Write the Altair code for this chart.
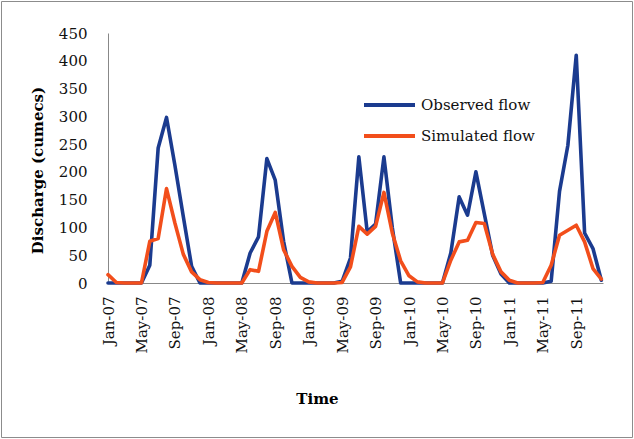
import json
import altair as alt
import pandas as pd

# Monthly discharge (cumecs), Jan-2007 .. Dec-2011
observed = [
    0, 0, 0, 0, 0, 32, 243, 298, 212, 120, 30, 0,
    0, 0, 0, 0, 0, 54, 83, 224, 185, 75, 0, 0,
    0, 0, 0, 0, 3, 45, 227, 92, 106, 227, 100, 0,
    0, 0, 0, 0, 0, 54, 155, 122, 200, 125, 50, 16,
    0, 0, 0, 0, 0, 3, 165, 248, 410, 90, 62, 5,
]
simulated = [
    15, 1, 0, 0, 0, 75, 80, 170, 108, 52, 20, 6,
    1, 0, 0, 0, 0, 24, 21, 93, 127, 60, 30, 10,
    2, 0, 0, 0, 1, 29, 102, 88, 102, 163, 90, 40,
    13, 2, 0, 0, 0, 41, 74, 77, 109, 107, 52, 20,
    5, 0, 0, 0, 1, 32, 86, 95, 104, 74, 26, 7,
]
tick_labels = [
    "Jan-07", "May-07", "Sep-07", "Jan-08", "May-08", "Sep-08", "Jan-09",
    "May-09", "Sep-09", "Jan-10", "May-10", "Sep-10", "Jan-11", "May-11", "Sep-11",
]
series_names = ["Observed flow", "Simulated flow"]
series_colors = ["#1b3b8f", "#f24e1b"]

wide = pd.DataFrame({
    "month": list(range(len(observed))),
    "Observed flow": observed,
    "Simulated flow": simulated,
})

FONT = "DejaVu Serif"
W, H = 495, 250
LEFT, TOP = 108, 33

lines = (
    alt.Chart(wide)
    .transform_fold(series_names, as_=["series", "discharge"])
    .mark_line(strokeWidth=3.6, strokeJoin="round", strokeCap="round")
    .encode(
        x=alt.X(
            "month:Q",
            scale=alt.Scale(domain=[0, 59.2], nice=False, zero=False),
            axis=alt.Axis(
                values=list(range(0, 60, 4)),
                labelExpr=f"{json.dumps(tick_labels)}[datum.value / 4]",
                labelAngle=270,
                labelPadding=13,
                ticks=False,
                grid=False,
                title="Time",
                titleX=317 - LEFT,
                titleY=398 - (TOP + H),
                titleAlign="center",
                titleBaseline="middle",
                titleAnchor="start",
            ),
        ),
        y=alt.Y(
            "discharge:Q",
            scale=alt.Scale(domain=[0, 450], nice=False),
            axis=alt.Axis(
                values=list(range(0, 451, 50)),
                ticks=False,
                grid=False,
                labelPadding=21,
                title="Discharge (cumecs)",
                titleX=37 - LEFT,
                titleY=170 - TOP,
                titleAngle=270,
                titleAlign="center",
                titleBaseline="middle",
                titleAnchor="start",
            ),
        ),
        color=alt.Color(
            "series:N",
            scale=alt.Scale(domain=series_names, range=series_colors),
            legend=alt.Legend(
                title=None,
                orient="none",
                legendX=254,
                legendY=62,
                symbolType="stroke",
                symbolSize=2601,
                symbolStrokeWidth=4,
                clipHeight=20,
                rowPadding=11,
                labelOffset=4,
                padding=0,
                labelFont=FONT,
                labelFontSize=15,
                labelColor="#111111",
            ),
        ),
        order=alt.Order("month:Q"),
    )
)

# thin frame around the whole chart area
frame = (
    alt.Chart(pd.DataFrame({"k": [0]}))
    .mark_rect(fill=None, stroke="#8c8c8c", strokeWidth=1)
    .encode(
        x=alt.value(1.5 - LEFT),
        x2=alt.value(632.5 - LEFT),
        y=alt.value(1.5 - TOP),
        y2=alt.value(437.5 - TOP),
    )
)

chart = (
    alt.layer(frame, lines)
    .properties(
        width=W,
        height=H,
        autosize=alt.AutoSizeParams(type="none"),
        padding={"left": LEFT, "top": TOP, "right": 634 - LEFT - W, "bottom": 439 - TOP - H},
        background="white",
    )
    .configure_view(stroke=None)
    .configure_axis(
        domainColor="#888888",
        domainWidth=1,
        labelFont=FONT,
        labelFontSize=15,
        labelColor="#111111",
        titleFont=FONT,
        titleFontSize=15,
        titleFontWeight="bold",
        titleColor="#000000",
    )
)

chart.save("out.html", embed_options={"renderer": "svg", "actions": False})
